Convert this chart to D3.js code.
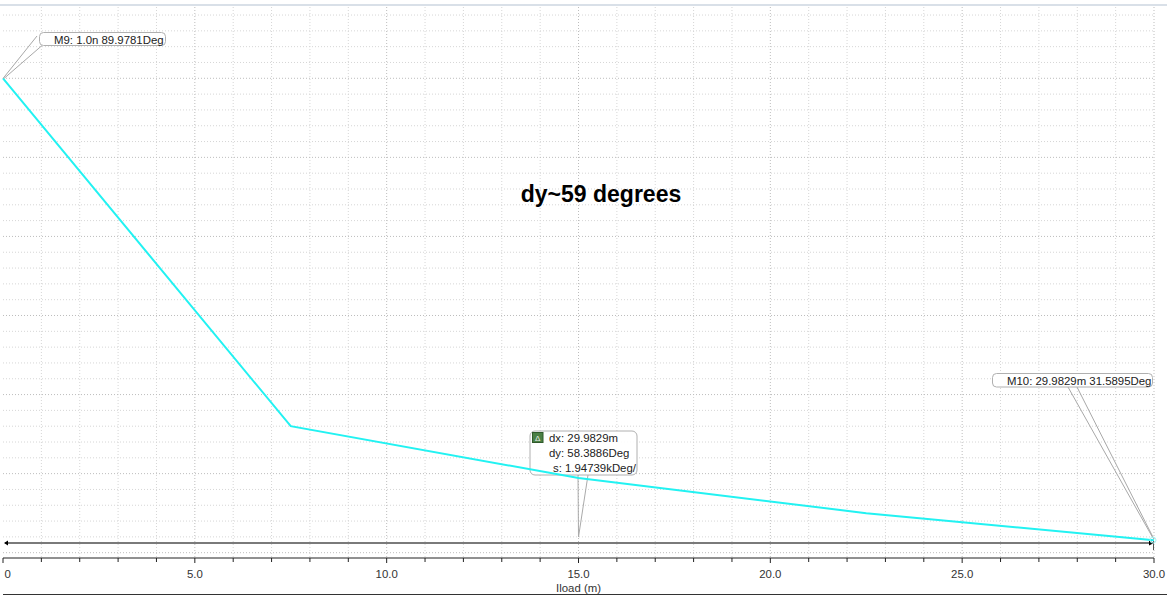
<!DOCTYPE html>
<html>
<head>
<meta charset="utf-8">
<script src="https://cdn.jsdelivr.net/npm/d3@7"></script>
<style>
  body { margin: 0; background: #fff; }
  svg { display: block; font-family: "Liberation Sans", Arial, sans-serif; }
</style>
</head>
<body>
<div id="chart"></div>
<script>
// data (phase vs Iload sweep)
var iload = [0, 7.5, 15, 22.5, 30];                 // m
var phase = [89.9781, 46.0, 39.45, 35.0, 31.5895];  // Deg
var xTicks = [0, 5, 10, 15, 20, 25, 30];
var xTickLabels = ["0", "5.0", "10.0", "15.0", "20.0", "25.0", "30.0"];
var m9Label = "M9: 1.0n 89.9781Deg";
var m10Label = "M10: 29.9829m 31.5895Deg";
var deltaLines = ["dx: 29.9829m", "dy: 58.3886Deg", "s: 1.94739kDeg/"];
var title = "dy~59 degrees";
var xLabel = "Iload (m)";

var width = 1167, height = 596;
var plotTop = 5, plotBottom = 558, plotLeft = 3, plotRight = 1154;
var labelSize = "11.4px";

var svg = d3.select("#chart").append("svg")
            .attr("width", width)
            .attr("height", height);

// Set the ranges
var x = d3.scaleLinear().domain([0, 30]).range([plotLeft, plotRight]);
var y = d3.scaleLinear().domain([29.33, 99.27]).range([plotBottom, plotTop]);

// top border
svg.append("line")
    .attr("x1", 0).attr("x2", width)
    .attr("y1", plotTop).attr("y2", plotTop)
    .style("stroke", "#cdd6e0")
    .style("stroke-width", 1.5);

// grid - vertical every 1 unit, horizontal every 2 deg
var grid = svg.append("g");
grid.selectAll("line.v")
    .data(d3.range(1, 31, 1))
    .enter().append("line")
    .attr("x1", function(d) { return x(d); })
    .attr("x2", function(d) { return x(d); })
    .attr("y1", plotTop + 2)
    .attr("y2", plotBottom)
    .style("stroke", function(d) { return d % 5 === 0 ? "#bdbdbd" : "#d6d6d6"; })
    .style("stroke-dasharray", "1,2");
grid.selectAll("line.h")
    .data(d3.range(30, 100, 2))
    .enter().append("line")
    .attr("x1", plotLeft)
    .attr("x2", plotRight)
    .attr("y1", function(d) { return y(d); })
    .attr("y2", function(d) { return y(d); })
    .style("stroke", function(d) { return d % 10 === 0 ? "#bdbdbd" : "#d6d6d6"; })
    .style("stroke-dasharray", "1,2");

// x axis with minor ticks
var xAxis = svg.append("g")
    .attr("transform", "translate(0," + plotBottom + ")");
xAxis.append("line")
    .attr("x1", plotLeft).attr("x2", plotRight)
    .style("stroke", "#222");
xAxis.selectAll("line.minor")
    .data(d3.range(0, 31, 1))
    .enter().append("line")
    .attr("x1", function(d) { return x(d); })
    .attr("x2", function(d) { return x(d); })
    .attr("y1", 0)
    .attr("y2", function(d) { return d % 5 === 0 ? 5 : 4; })
    .style("stroke", "#222");
xAxis.selectAll("text")
    .data(xTicks)
    .enter().append("text")
    .attr("x", function(d, i) { return i === 0 ? x(d) + 1.5 : x(d); })
    .attr("y", 20)
    .style("text-anchor", function(d, i) { return i === 0 ? "start" : "middle"; })
    .style("font-size", labelSize)
    .style("fill", "#333")
    .text(function(d, i) { return xTickLabels[i]; });

// text label for the x axis
svg.append("text")
    .attr("x", x(15))
    .attr("y", 592)
    .style("text-anchor", "middle")
    .style("font-size", labelSize)
    .style("fill", "#333")
    .text(xLabel);

svg.append("line")
    .attr("x1", plotLeft).attr("x2", width)
    .attr("y1", 594.5).attr("y2", 594.5)
    .style("stroke", "#333");

// dx bar of the delta marker
var barY = 543;
svg.append("line")
    .attr("x1", x(iload[0]) + 2).attr("x2", x(iload[iload.length - 1]) - 2)
    .attr("y1", barY).attr("y2", barY)
    .style("stroke", "#7a7a7a")
    .style("stroke-width", 2);
svg.append("path")
    .attr("d", "M" + (x(0) + 1) + "," + barY + "l4,-2.5v5z")
    .style("fill", "#000");
svg.append("path")
    .attr("d", "M" + (x(30)) + "," + barY + "l-5,-2.5v5z")
    .style("fill", "#000");
svg.append("line")
    .attr("x1", x(30) - 0.5).attr("x2", x(30) - 0.5)
    .attr("y1", barY - 2).attr("y2", barY + 7)
    .style("stroke", "#555");

// Define the line
var valueline = d3.line()
    .x(function(d, i) { return x(iload[i]); })
    .y(function(d) { return y(d); });

// delta box (drawn under the curve)
var bx = 530, by = 431;
var delta = svg.append("g");
delta.append("path")
    .attr("d", "M578,475L" + x(15) + ",537L588,475")
    .style("fill", "none")
    .style("stroke", "#aaa");
delta.append("rect")
    .attr("x", bx).attr("y", by)
    .attr("width", 107).attr("height", 44)
    .attr("rx", 5)
    .style("fill", "#fff")
    .style("fill-opacity", 0.9)
    .style("stroke", "#b0b0b0");
delta.append("rect")
    .attr("x", bx + 2.5).attr("y", by + 1.5)
    .attr("width", 10.5).attr("height", 10)
    .style("fill", "#4b7f45")
    .style("stroke", "#2f5a2a");
delta.append("text")
    .attr("x", bx + 7.75).attr("y", by + 10)
    .style("text-anchor", "middle")
    .style("font-size", "8px")
    .style("fill", "#e8f0e8")
    .text("\u0394");
delta.selectAll("text.v")
    .data(deltaLines)
    .enter().append("text")
    .attr("x", function(d, i) { return i === 2 ? 553 : 549; })
    .attr("y", function(d, i) { return 441.5 + i * 15.3; })
    .style("font-size", labelSize)
    .style("fill", "#222")
    .text(function(d) { return d; });

// Add the valueline path.
svg.append("path")
    .datum(phase)
    .attr("d", valueline)
    .style("fill", "none")
    .style("stroke", "#22f2f2")
    .style("stroke-width", 2);

// marker M9
var m9x = x(iload[0]), m9y = y(phase[0]);
svg.append("line")
    .attr("x1", m9x).attr("y1", m9y)
    .attr("x2", 37).attr("y2", 36)
    .style("stroke", "#a8a8a8");
svg.append("line")
    .attr("x1", m9x + 1).attr("y1", m9y)
    .attr("x2", 42).attr("y2", 45.5)
    .style("stroke", "#a8a8a8");
svg.append("rect")
    .attr("x", 39.5).attr("y", 32.5)
    .attr("width", 126).attr("height", 13)
    .attr("rx", 4)
    .style("fill", "#fff")
    .style("stroke", "#b0b0b0");
svg.append("text")
    .attr("x", 54).attr("y", 44)
    .style("font-size", labelSize)
    .style("fill", "#222")
    .text(m9Label);

// marker M10
var m10x = x(iload[4]) - 1, m10y = y(phase[4]);
svg.append("line")
    .attr("x1", 1068).attr("y1", 387)
    .attr("x2", m10x).attr("y2", m10y - 2)
    .style("stroke", "#a8a8a8");
svg.append("line")
    .attr("x1", 1077).attr("y1", 387)
    .attr("x2", m10x + 1).attr("y2", m10y - 1)
    .style("stroke", "#a8a8a8");
svg.append("circle")
    .attr("cx", m10x).attr("cy", m10y)
    .attr("r", 3)
    .style("fill", "none")
    .style("stroke", "#a8f4f4");
svg.append("rect")
    .attr("x", 992.5).attr("y", 373.5)
    .attr("width", 160).attr("height", 13.5)
    .attr("rx", 4)
    .style("fill", "#fff")
    .style("stroke", "#b0b0b0");
svg.append("text")
    .attr("x", 1007).attr("y", 385)
    .style("font-size", labelSize)
    .style("fill", "#222")
    .text(m10Label);

// title annotation
svg.append("text")
    .attr("x", 601)
    .attr("y", 202)
    .style("text-anchor", "middle")
    .style("font-size", "23px")
    .style("font-weight", "bold")
    .style("fill", "#000")
    .text(title);
</script>
</body>
</html>
